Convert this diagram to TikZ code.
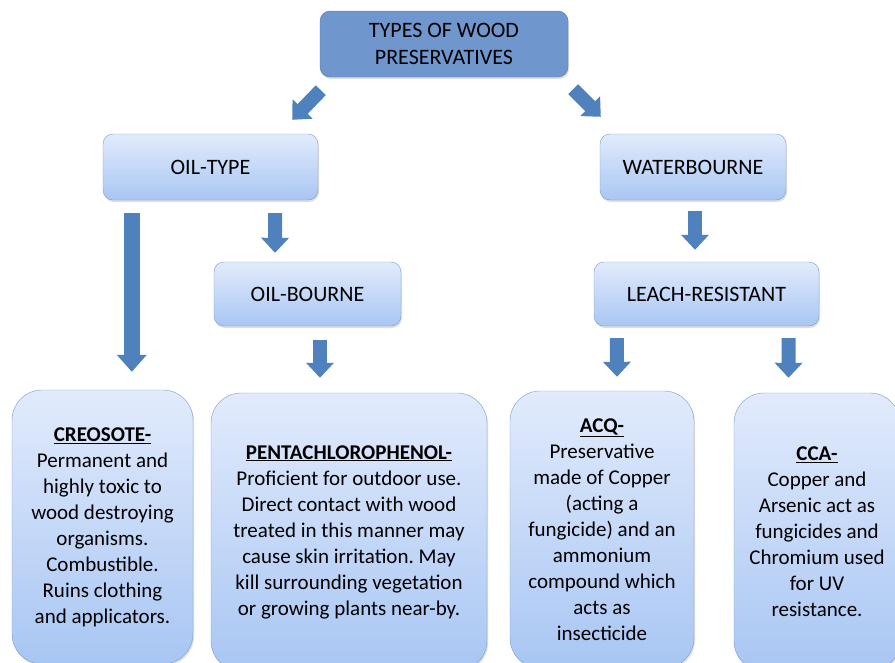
\documentclass[tikz,border=0pt]{standalone}
\usepackage{fontspec}
\setmainfont{Carlito}
\usetikzlibrary{arrows.meta, calc, shadows}
\definecolor{boxtop}{RGB}{226,235,252}
\definecolor{boxbot}{RGB}{168,198,243}
\definecolor{boxedge}{RGB}{122,156,208}
\definecolor{headfill}{RGB}{112,150,206}
\definecolor{headedge}{RGB}{84,122,180}
\definecolor{arrowblue}{RGB}{79,129,189}
\frenchspacing

\begin{document}
\begin{tikzpicture}[x=1pt, y=-1pt,
    shade/.style={drop shadow={opacity=.25, shadow xshift=1pt, shadow yshift=-2pt}},
    headbox/.style={shade, draw=headedge, fill=headfill, rounded corners=10pt, inner sep=0pt, align=center, font=\fontsize{22}{27}\selectfont},
    box/.style={shade, draw=boxedge, top color=boxtop, bottom color=boxbot, rounded corners=10pt, inner sep=0pt, align=center, font=\fontsize{22}{27}\selectfont},
    note/.style={box, rounded corners=30pt, font=\fontsize{21}{26}\selectfont},
    flow/.style={draw=arrowblue, line width=14pt, -{Triangle[width=27pt, length=15pt]}}]

    \path[use as bounding box, fill=white] (0,0) rectangle (895,662);

    \node[headbox, minimum width=248pt, minimum height=66pt] (types) at (444,44) {TYPES OF WOOD\\PRESERVATIVES};

    \node[box, minimum width=215pt, minimum height=66pt] (oiltype) at (210.5,167) {OIL-TYPE};
    \node[box, minimum width=186pt, minimum height=66pt] (water) at (693,167) {WATERBOURNE};
    \node[box, minimum width=187pt, minimum height=64pt] (oilbourne) at (307.5,294) {OIL-BOURNE};
    \node[box, minimum width=225pt, minimum height=64pt] (leach) at (706.5,294) {LEACH-RESISTANT};

    \node[note, minimum width=181pt, minimum height=274pt] (creosote) at (102.5,527) {\underline{\textbf{CREOSOTE-}}\\Permanent and\\highly toxic to\\wood destroying\\organisms.\\Combustible.\\Ruins clothing\\and applicators.};
    \node[note, minimum width=276pt, minimum height=278pt] (penta) at (349,532) {\underline{\textbf{PENTACHLOROPHENOL-}}\\Proficient for outdoor use.\\Direct contact with wood\\treated in this manner may\\cause skin irritation. May\\kill surrounding vegetation\\or growing plants near-by.};
    \node[note, minimum width=184pt, minimum height=277pt] (acq) at (602,529.5) {\underline{\textbf{ACQ-}}\\Preservative\\made of Copper\\(acting a\\fungicide) and an\\ammonium\\compound which\\acts as\\insecticide};
    \node[note, minimum width=166pt, minimum height=278pt] (cca) at (817,532) {\underline{\textbf{CCA-}}\\Copper and\\Arsenic act as\\fungicides and\\Chromium used\\for UV\\resistance.};

    \draw[flow] ($(types.south west)+(1,13)$) -- ($(oiltype.north east)+(-26,-14)$);
    \draw[flow] ($(types.south east)+(5,12)$) -- ($(water.north west)+(1,-17)$);
    \draw[flow, line width=16pt, -{Triangle[width=29pt, length=17pt]}] ($(oiltype.south west)+(29,13)$) -- ($(creosote.north west)+(120,-18)$);
    \draw[flow] ($(oiltype.south east)+(-43,13)$) -- ($(oilbourne.north)+(-32.5,-9)$);
    \draw[flow] ($(oilbourne.south)+(12.5,14)$) -- ($(penta.north)+(-29,-15)$);
    \draw[flow] ($(water.south)+(2,11)$) -- ($(leach.north)+(-11.5,-12)$);
    \draw[flow] ($(leach.south west)+(23,12)$) -- ($(acq.north)+(15,-14)$);
    \draw[flow] ($(leach.south east)+(-30.5,12)$) -- ($(cca.north)+(-28.5,-15)$);
\end{tikzpicture}
\end{document}
